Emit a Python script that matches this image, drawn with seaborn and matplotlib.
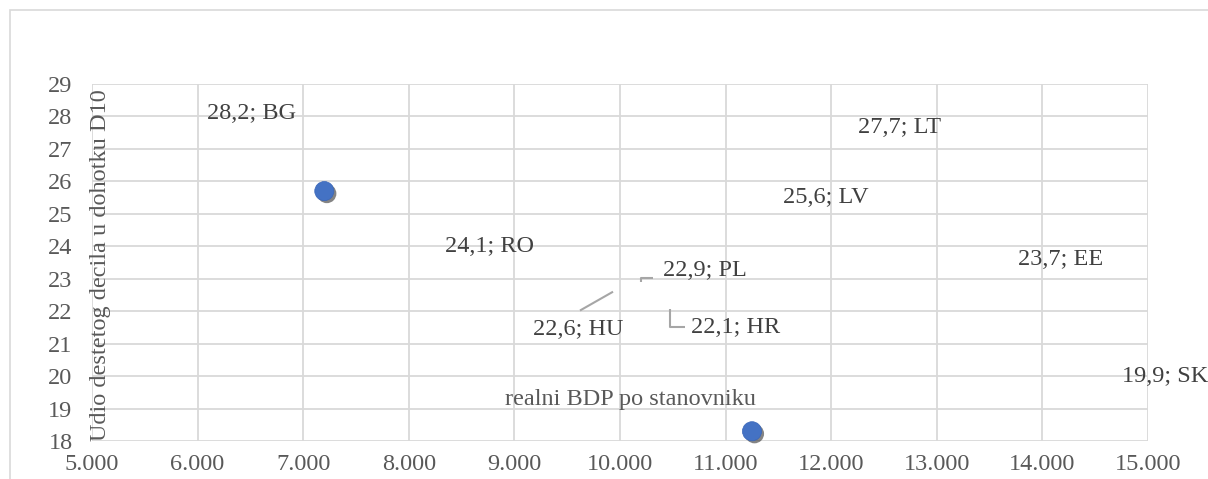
import numpy as np
import pandas as pd
import seaborn as sns
import matplotlib.pyplot as plt
import matplotlib.patheffects as pe
from matplotlib.ticker import FuncFormatter, MultipleLocator
from matplotlib.patches import Rectangle

# visible markers
gdp = [7200, 11250]
d10 = [25.7, 18.3]

# data labels (text, position in data units)
lab_text = ["28,2; BG", "27,7; LT", "25,6; LV", "24,1; RO", "23,7; EE",
            "22,9; PL", "22,6; HU", "22,1; HR", "19,9; SK"]
lab_x = [6515, 12650, 11950, 8760, 14175, 10805, 9600, 11090, 15160]
lab_y = [28.1, 27.65, 25.5, 24.0, 23.6, 23.25, 21.45, 21.5, 20.0]

# leader lines
leaders = [
    ([10199, 10199, 10313], [22.91, 23.03, 23.03]),   # PL
    ([9621, 9934], [22.02, 22.60]),                   # HU
    ([10473, 10473, 10616], [22.08, 21.52, 21.52]),   # HR
]

df = pd.DataFrame({"gdp": gdp, "d10": d10})

sns.set_style("white")
plt.rcParams['font.family'] = ['Liberation Serif', 'DejaVu Serif']
FS = 17.5

fig = plt.figure(figsize=(12.08, 4.79), dpi=100)
ax = fig.add_axes([92/1208, 1 - 441/479, (1148-92)/1208, (441-84)/479])

# outer chart border
fig.patches.append(Rectangle((10/1208, -0.1), 1.2, 1 - 10/479 + 0.1,
                             transform=fig.transFigure, fill=False,
                             edgecolor='#d9d9d9', linewidth=1.2, zorder=0))

ax.set_xlim(5000, 15000)
ax.set_ylim(18, 29)
ax.xaxis.set_major_locator(MultipleLocator(1000))
ax.yaxis.set_major_locator(MultipleLocator(1))
ax.xaxis.set_major_formatter(FuncFormatter(lambda v, p: f"{int(v):,}".replace(",", ".")))
ax.grid(True, color='#d9d9d9', linewidth=1.3)
ax.set_axisbelow(True)
for s in ax.spines.values():
    s.set_visible(False)
ax.tick_params(axis='both', length=0, labelsize=FS, labelcolor='#595959')
ax.tick_params(axis='y', pad=14)
ax.tick_params(axis='x', pad=9)

sns.scatterplot(data=df, x="gdp", y="d10", ax=ax, s=190, color='#4472c4',
                edgecolor='#3a66b8', linewidth=0.5, zorder=5, clip_on=False,
                path_effects=[pe.SimplePatchShadow(offset=(1.8, -1.8), alpha=0.6, shadow_rgbFace='#333333'),
                              pe.Normal()])
ax.set_xlabel("")
ax.set_ylabel("")

for t, x, y in zip(lab_text, lab_x, lab_y):
    ax.text(x, y, t, ha='center', va='center', fontsize=FS, color='#404040', clip_on=False)

for xs, ys in leaders:
    ax.plot(xs, ys, color='#a6a6a6', linewidth=1.5, solid_capstyle='butt')

# axis titles placed inside the plot area
ax.text(10095, 19.28, "realni BDP po stanovniku", ha='center', va='center',
        fontsize=FS, color='#595959')
fig.text(101/1208, 1 - 265/479, "Udio destetog decila u dohotku D10", rotation=90,
         ha='center', va='center', fontsize=FS, color='#595959')

fig.savefig("out.png", dpi=100)
